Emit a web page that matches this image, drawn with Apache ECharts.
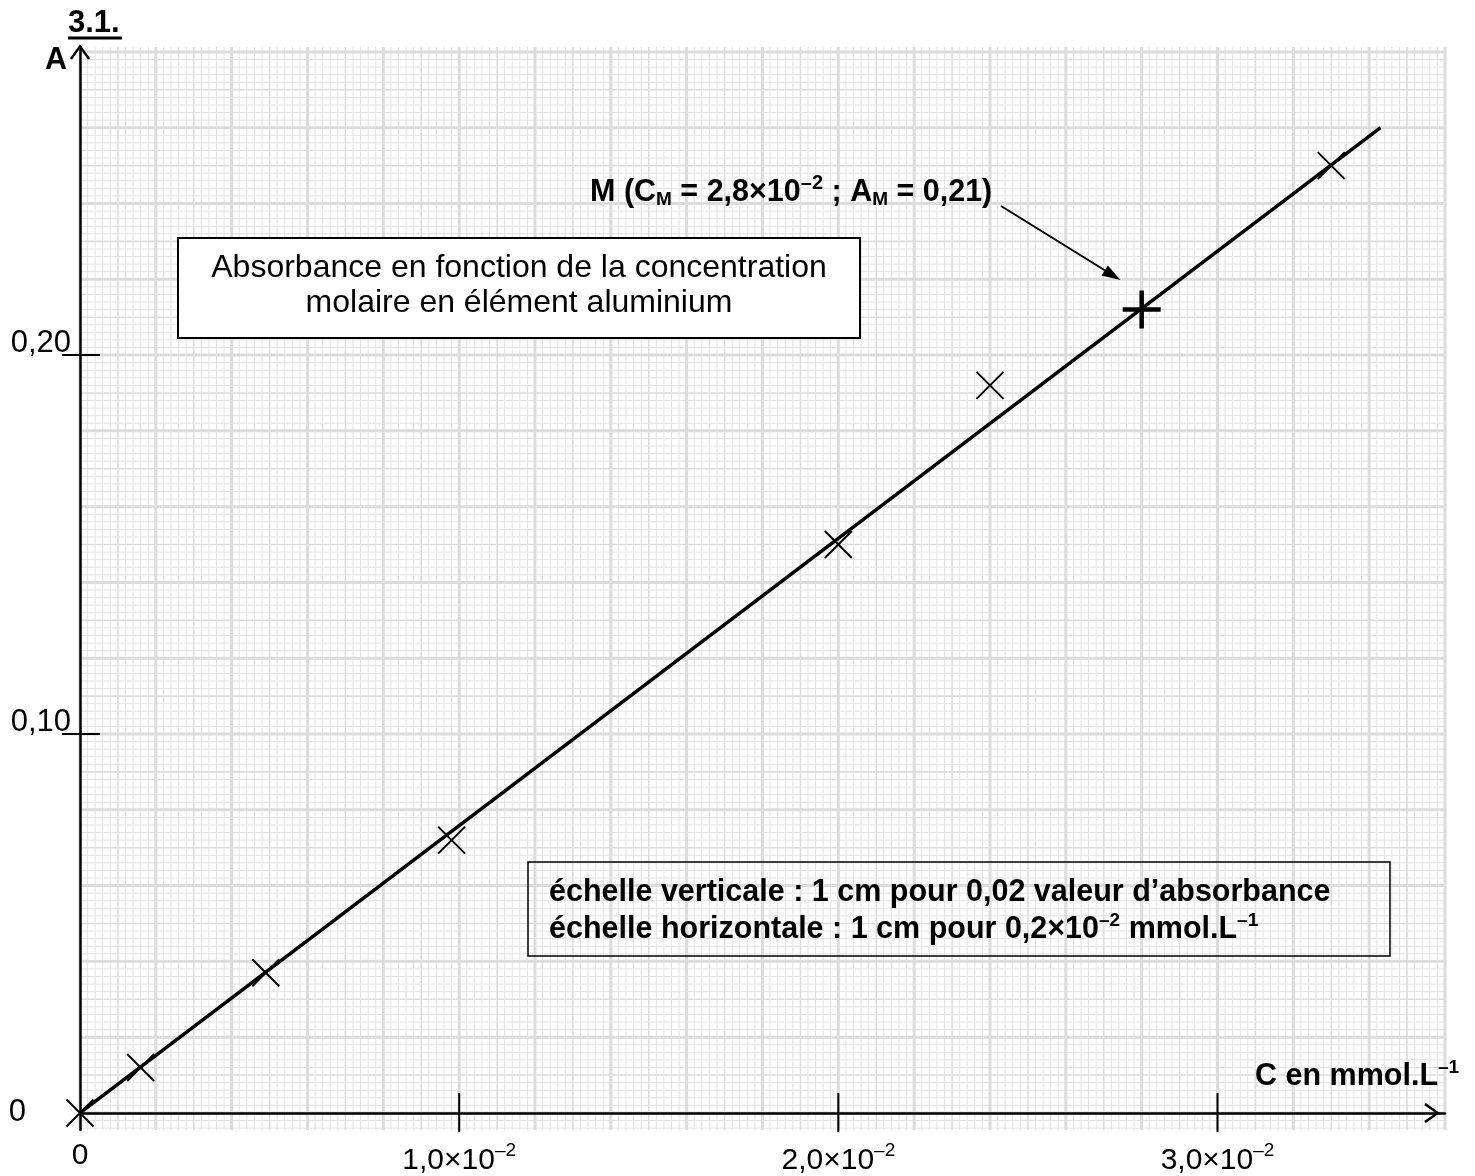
<!DOCTYPE html>
<html><head><meta charset="utf-8">
<script src="https://cdn.jsdelivr.net/npm/echarts@6/dist/echarts.min.js"></script>
<style>html,body{margin:0;padding:0;background:#fff}#c{width:1475px;height:1176px}</style>
</head><body><div id="c"></div>
<script>
// ---- data (concentration in units of 10^-2 mmol/L) ----
const concentration = [0, 0.16, 0.49, 0.98, 2.0, 2.4, 3.3];
const absorbance    = [0, 0.012, 0.037, 0.072, 0.150, 0.192, 0.250];
const fitC = [0, 3.43];
const fitA = [0, 0.26];
const pointM = [2.8, 0.212];
const xTickValues = [0, 1, 2, 3];
const xTickLabels = ['0', '1,0×10^–2', '2,0×10^–2', '3,0×10^–2'];
const yTickValues = [0, 0.1, 0.2];
const yTickLabels = ['0', '0,10', '0,20'];

const X_MIN = 0, X_MAX = 3.6, Y_MIN = -0.0045, Y_MAX = 0.2813;
const FONT = "'Liberation Sans', Arial, sans-serif";

const chart = echarts.init(document.getElementById('c'));

function paperItem(params, api) {
  const ya = api.coord([0, Y_MIN])[1], yb = api.coord([0, Y_MAX])[1];
  const xa = api.coord([X_MIN, 0])[0], xb = api.coord([X_MAX, 0])[0];
  const styles = [
    {stroke: '#e3e3e3', lineWidth: 1},
    {stroke: '#dddddd', lineWidth: 1.6},
    {stroke: '#dcdcdc', lineWidth: 3}
  ];
  const lvl = mm => (mm % 10 === 0 ? 2 : (mm % 5 === 0 ? 1 : 0));
  const children = [];
  for (let pass = 0; pass < 3; pass++) {
    for (let mm = 0; mm <= 180; mm++) {
      if (lvl(mm) !== pass) continue;
      const x = api.coord([mm * 0.02, 0])[0];
      children.push({type: 'line', shape: {x1: x, y1: ya, x2: x, y2: yb}, style: styles[pass]});
    }
    for (let mm = -2; mm <= 140; mm++) {
      if (lvl(mm) !== pass) continue;
      const y = api.coord([0, mm * 0.002])[1];
      children.push({type: 'line', shape: {x1: xa, y1: y, x2: xb, y2: y}, style: styles[pass]});
    }
  }
  return {type: 'group', children};
}

const chevron = 'path://M10,0 L20,14 L18,15.6 L10,4 L2,15.6 L0,14 Z';

chart.setOption({
  animation: false,
  backgroundColor: '#fff',
  grid: {left: 80, right: 30, top: 47, bottom: 46, containLabel: false, outerBoundsMode: 'none'},
  xAxis: {
    type: 'value', min: X_MIN, max: X_MAX, z: 5,
    axisLine: {show: true, onZero: true, symbol: ['none', chevron], symbolSize: [20, 20],
      symbolOffset: [0, -13], lineStyle: {color: '#000', width: 2.5}},
    axisTick: {show: false}, splitLine: {show: false},
    axisLabel: {
      customValues: xTickValues, margin: 11, color: '#000', fontSize: 30, fontFamily: FONT,
      formatter: v => {
        const i = xTickValues.indexOf(Math.round(v * 1000) / 1000);
        const t = i >= 0 ? xTickLabels[i] : '';
        const parts = t.split('^');
        return parts.length > 1 ? '{b|' + parts[0] + '}{s|' + parts[1] + '}' : '{b|' + t + '}';
      },
      rich: {
        b: {fontSize: 30, fontFamily: FONT, color: '#000'},
        s: {fontSize: 19, fontFamily: FONT, color: '#000', padding: [0, 0, 20, 0]}
      }
    }
  },
  yAxis: {
    type: 'value', min: Y_MIN, max: Y_MAX, z: 5,
    axisLine: {show: true, onZero: true, symbol: ['none', chevron], symbolSize: [20, 20],
      symbolOffset: [0, -5], lineStyle: {color: '#000', width: 2.5}},
    axisTick: {show: false}, splitLine: {show: false},
    axisLabel: {
      customValues: yTickValues, margin: 9, color: '#000', fontSize: 31, fontFamily: FONT,
      formatter: v => {
        const i = yTickValues.findIndex(t => Math.abs(t - v) < 1e-6);
        if (i < 0) return '';
        return (yTickValues[i] === 0 ? '{z|' : '{a|') + yTickLabels[i] + '}';
      },
      rich: {
        a: {fontSize: 31, fontFamily: FONT, color: '#000', padding: [0, 0, 24, 0]},
        z: {fontSize: 31, fontFamily: FONT, color: '#000', padding: [0, 45, 0, 0]}
      }
    }
  },
  series: [
    {type: 'custom', name: 'paper', z: 1, silent: true, data: [[0, 0]], renderItem: paperItem},
    {type: 'custom', name: 'xticks', z: 6, silent: true,
      data: xTickValues.filter(v => v > 0).map(v => [v, 0]),
      renderItem: (p, api) => {
        const c = api.coord([api.value(0), 0]);
        return {type: 'line', shape: {x1: c[0], y1: c[1] - 20, x2: c[0], y2: c[1] + 19},
          style: {stroke: '#000', lineWidth: 2}};
      }},
    {type: 'custom', name: 'yticks', z: 6, silent: true,
      data: yTickValues.filter(v => v > 0).map(v => [0, v]),
      renderItem: (p, api) => {
        const c = api.coord([0, api.value(1)]);
        return {type: 'line', shape: {x1: c[0] - 18, y1: c[1], x2: c[0] + 20, y2: c[1]},
          style: {stroke: '#000', lineWidth: 2}};
      }},
    {type: 'line', name: 'fit', z: 7, symbol: 'none', silent: true,
      data: fitC.map((c, i) => [c, fitA[i]]),
      lineStyle: {color: '#000', width: 3.5}},
    {type: 'scatter', name: 'mesures', z: 8, silent: true,
      symbol: 'path://M0,0 L20,20 M20,0 L0,20', symbolSize: 27,
      itemStyle: {color: 'transparent', borderColor: '#000', borderWidth: 2, opacity: 1},
      data: concentration.map((c, i) => [c, absorbance[i]])},
    {type: 'scatter', name: 'M', z: 9, silent: true,
      symbol: 'path://M10,0 L10,20 M0,10 L20,10', symbolSize: 38,
      itemStyle: {color: 'transparent', borderColor: '#000', borderWidth: 4.5, opacity: 1},
      data: [pointM]}
  ],
  graphic: [
    {type: 'text', x: 68, y: 23, z: 20, style: {text: '3.1.', fill: '#000', fontSize: 31, fontWeight: 'bold', fontFamily: FONT, verticalAlign: 'middle'}},
    {type: 'line', z: 20, shape: {x1: 68, y1: 38, x2: 122, y2: 38}, style: {stroke: '#000', lineWidth: 3}},
    {type: 'text', x: 45, y: 61, z: 20, style: {text: 'A', fill: '#000', fontSize: 30.5, fontWeight: 'bold', fontFamily: FONT, verticalAlign: 'middle'}},
    {type: 'text', x: 1255, y: 1077, z: 20, style: {
      text: '{b|C en mmol.L}{s|–1}', verticalAlign: 'middle', fill: '#000',
      rich: {b: {fontSize: 30.5, fontWeight: 'bold', fontFamily: FONT, fill: '#000'},
             s: {fontSize: 19, fontWeight: 'bold', fontFamily: FONT, fill: '#000', padding: [0, 0, 19, 0]}}}},
    {type: 'text', x: 590, y: 193, z: 20, style: {
      text: '{b|M (C}{d|M}{b| = 2,8×10}{u|–2}{b| ; A}{d|M}{b| = 0,21)}', verticalAlign: 'middle', fill: '#000',
      rich: {b: {fontSize: 30.5, fontWeight: 'bold', fontFamily: FONT, fill: '#000'},
             d: {fontSize: 19, fontWeight: 'bold', fontFamily: FONT, fill: '#000', padding: [14, 0, 0, 0]},
             u: {fontSize: 20, fontWeight: 'bold', fontFamily: FONT, fill: '#000', padding: [0, 0, 19, 0]}}}},
    {type: 'line', z: 20, shape: {x1: 1001, y1: 206, x2: 1106, y2: 271}, style: {stroke: '#000', lineWidth: 2}},
    {type: 'polygon', z: 20, shape: {points: [[1120.5, 280], [1101.5, 275.6], [1107.9, 265.4]]}, style: {fill: '#000'}},
    {type: 'rect', z: 15, shape: {x: 178, y: 238, width: 682, height: 100}, style: {fill: '#fff', stroke: '#000', lineWidth: 2}},
    {type: 'text', x: 519, y: 286, z: 20, style: {
      text: 'Absorbance en fonction de la concentration\nmolaire en élément aluminium',
      fill: '#000', fontSize: 32, fontFamily: FONT, align: 'center', verticalAlign: 'middle', lineHeight: 35}},
    {type: 'rect', z: 15, shape: {x: 528, y: 862, width: 862, height: 94}, style: {fill: 'none', stroke: '#000', lineWidth: 1.5}},
    {type: 'text', x: 549, y: 911, z: 20, style: {
      text: '{b|échelle verticale : 1 cm pour 0,02 valeur d’absorbance}\n{b|échelle horizontale : 1 cm pour 0,2×10}{s|–2}{b| mmol.L}{s|–1}',
      verticalAlign: 'middle', fill: '#000',
      rich: {b: {fontSize: 30.5, fontWeight: 'bold', fontFamily: FONT, fill: '#000', lineHeight: 37},
             s: {fontSize: 19, fontWeight: 'bold', fontFamily: FONT, fill: '#000', lineHeight: 37, padding: [0, 0, 18, 0]}}}}
  ]
});
</script></body></html>
